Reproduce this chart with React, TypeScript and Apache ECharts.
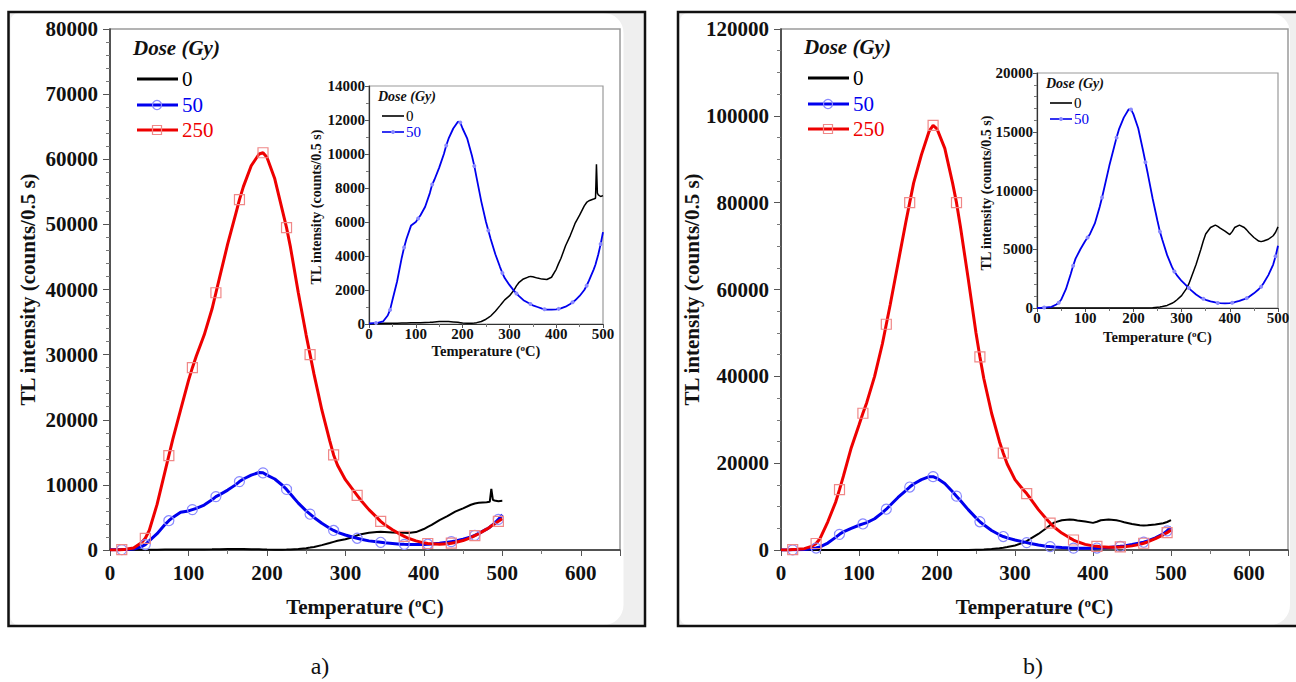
import React, { useEffect, useRef } from "react";
import * as echarts from "echarts";

// ---------- DATA ----------
// Panel a) temperatures (°C)
const TEMPS_A = [0, 10, 15, 20, 30, 40, 45, 50, 60, 70, 75, 80, 90, 100, 105, 110, 120, 130, 135, 140, 150, 160, 165, 170, 180, 190, 195, 200, 210, 220, 225, 230, 240, 250, 255, 260, 270, 280, 285, 290, 300, 310, 315, 320, 330, 340, 345, 350, 360, 370, 375, 380, 390, 400, 405, 410, 420, 430, 435, 440, 450, 460, 465, 470, 480, 484, 486, 488, 490, 495, 500];
const A_DOSE0 = [0, 20, 30, 30, 40, 40, 40, 50, 50, 60, 60, 60, 70, 70, 80, 80, 90, 100, 110, 120, 140, 150, 150, 140, 120, 100, 80, 60, 50, 50, 60, 80, 150, 280, 370, 470, 750, 1080, 1250, 1420, 1650, 2000, 2240, 2430, 2650, 2760, 2800, 2780, 2700, 2640, 2630, 2620, 2750, 3220, 3550, 3850, 4600, 5200, 5550, 5900, 6400, 6950, 7150, 7250, 7350, 7400, 9400, 7700, 7600, 7500, 7550];
const A_DOSE50 = [30, 50, 60, 80, 150, 500, 830, 1400, 2500, 3900, 4500, 5000, 5800, 6000, 6200, 6400, 6900, 7700, 8200, 8500, 9200, 10000, 10500, 10900, 11500, 11900, 11850, 11500, 10900, 9900, 9300, 8600, 7200, 6000, 5500, 5000, 4100, 3350, 3000, 2700, 2300, 1950, 1800, 1650, 1400, 1250, 1180, 1100, 1000, 900, 870, 850, 840, 860, 890, 920, 1020, 1180, 1280, 1380, 1650, 2000, 2250, 2550, 3200, 3500, 3700, 3900, 4100, 4700, 5400];
const A_DOSE250 = [0, 0, 50, 100, 300, 1100, 1800, 3000, 7000, 12000, 14500, 17000, 21500, 26000, 28000, 29800, 33000, 37000, 39500, 42000, 47000, 51500, 53800, 55800, 59000, 60800, 61000, 60300, 57000, 52000, 49500, 46500, 39500, 33000, 30000, 27000, 21500, 16800, 14600, 13000, 10800, 9200, 8400, 7600, 6200, 5000, 4400, 3900, 3100, 2400, 2100, 1800, 1400, 1100, 1000, 950, 900, 950, 1050, 1150, 1450, 1900, 2200, 2500, 3200, 3500, 3700, 3850, 4000, 4400, 4800];

// Panel b) temperatures (°C)
const TEMPS_B = [0, 10, 15, 20, 30, 40, 45, 50, 60, 70, 75, 80, 90, 100, 105, 110, 120, 130, 135, 140, 150, 160, 165, 170, 180, 190, 195, 200, 210, 220, 225, 230, 240, 250, 255, 260, 270, 280, 285, 290, 300, 310, 315, 320, 330, 340, 345, 350, 360, 370, 375, 380, 390, 400, 405, 410, 420, 430, 435, 440, 450, 460, 465, 470, 480, 490, 495, 500];
const B_DOSE0 = [0, 0, 0, 0, 0, 0, 0, 0, 0, 0, 0, 0, 0, 0, 0, 0, 0, 0, 0, 0, 0, 0, 0, 0, 0, 0, 0, 0, 0, 10, 10, 10, 20, 60, 80, 120, 220, 400, 520, 680, 1050, 1650, 2050, 2600, 3700, 5000, 5700, 6300, 6850, 7050, 6950, 6800, 6550, 6250, 6500, 6850, 7050, 6850, 6650, 6400, 6000, 5700, 5650, 5700, 5850, 6150, 6450, 6900];
const B_DOSE50 = [0, 20, 40, 60, 100, 300, 450, 700, 1600, 2900, 3600, 4200, 5000, 5700, 6000, 6300, 7200, 8600, 9400, 10300, 12100, 13700, 14500, 15200, 16200, 16900, 16900, 16500, 15300, 13400, 12400, 11400, 9300, 7400, 6500, 5800, 4500, 3500, 3100, 2800, 2300, 1900, 1700, 1500, 1150, 880, 780, 700, 560, 470, 430, 410, 400, 420, 450, 490, 600, 750, 840, 950, 1250, 1600, 1800, 2100, 2800, 3700, 4400, 5300];
const B_DOSE250 = [0, 0, 100, 150, 300, 900, 1500, 2600, 6500, 11000, 13900, 17000, 23500, 28800, 31500, 34000, 40000, 47500, 52000, 56500, 66000, 75500, 80000, 84500, 91000, 96500, 97800, 97000, 92500, 84500, 80000, 74500, 62500, 50000, 44500, 39500, 31500, 25000, 22300, 19800, 16200, 14000, 13000, 11800, 9300, 7200, 6200, 5300, 3900, 2800, 2300, 1900, 1300, 950, 850, 750, 650, 650, 700, 750, 950, 1300, 1550, 1850, 2600, 3500, 4000, 4600];

// temperatures carrying a data marker
const MARK_TEMPS = [15, 45, 75, 105, 135, 165, 195, 225, 255, 285, 315, 345, 375, 405, 435, 465, 495];

const LEGEND_DOSES = ["0", "50", "250"];
const INSET_DOSES = ["0", "50"];
const LEGEND_TITLE = "Dose (Gy)";
const Y_NAME = "TL intensity (counts/0.5 s)";
const X_NAME = "Temperature ({s|o}C)";

// ---------- STYLE ----------
const FONT = "'Liberation Serif', 'Times New Roman', serif";
const BLACK = "#000000";
const BLUE = "#0000ee";
const RED = "#ee0000";
const BLUE_MK = "#8a8aff";
const RED_MK = "#f08888";

const pairs = (t: number[], v: number[]) => t.map((x, i) => [x, v[i]]);
const markSym = (shape: string) => (val: number[]) =>
  MARK_TEMPS.includes(val[0]) ? shape : "none";
const plain = (v: number) => String(v);

function lineSeries(
  name: string,
  data: number[][],
  axis: number,
  color: string,
  width: number,
  marker?: { shape: string; color: string; size: number; filled?: boolean }
) {
  return {
    type: "line",
    name,
    data,
    xAxisIndex: axis,
    yAxisIndex: axis,
    smooth: false,
    showSymbol: !!marker,
    showAllSymbol: true,
    symbol: marker ? markSym(marker.shape) : "none",
    symbolSize: marker ? marker.size : 0,
    lineStyle: { color, width },
    itemStyle: marker
      ? marker.filled
        ? { color: marker.color, borderColor: marker.color, borderWidth: 0 }
        : { color: "rgba(255,255,255,0)", borderColor: marker.color, borderWidth: 1.2 }
      : { color },
    emphasis: { disabled: true },
    z: 3,
  };
}

function xAxisCfg(grid: number, max: number, inset: boolean, nameGap: number) {
  return {
    type: "value",
    gridIndex: grid,
    min: 0,
    max,
    interval: 100,
    name: X_NAME,
    nameLocation: "middle",
    nameGap,
    nameTextStyle: {
      fontFamily: FONT,
      fontWeight: "bold",
      fontSize: inset ? 14.5 : 21,
      color: "#111",
      rich: {
        s: {
          fontFamily: FONT,
          fontWeight: "bold",
          fontSize: inset ? 9 : 13,
          verticalAlign: "top",
          color: "#111",
        },
      },
    },
    axisLine: { show: true, onZero: false, lineStyle: { color: "#333", width: inset ? 1.2 : 1.5 } },
    axisTick: { show: true, inside: false, length: inset ? 4 : 6, lineStyle: { color: "#555" } },
    minorTick: { show: true, splitNumber: 2, length: inset ? 3 : 4, lineStyle: { color: "#777" } },
    splitLine: { show: false },
    axisLabel: {
      fontFamily: FONT,
      fontWeight: "bold",
      fontSize: inset ? 15 : 21,
      color: "#111",
      margin: inset ? 2 : 12,
      formatter: plain,
      showMaxLabel: inset ? true : false,
    },
  };
}

function yAxisCfg(
  grid: number,
  max: number,
  interval: number,
  minor: number,
  inset: boolean,
  nameGap: number
) {
  return {
    type: "value",
    gridIndex: grid,
    min: 0,
    max,
    interval,
    name: inset ? "" : Y_NAME,
    nameLocation: "middle",
    nameGap,
    nameTextStyle: {
      fontFamily: FONT,
      fontWeight: "bold",
      fontSize: 21,
      color: "#111",
    },
    axisLine: { show: true, onZero: false, lineStyle: { color: "#333", width: inset ? 1.2 : 1.5 } },
    axisTick: { show: true, inside: false, length: inset ? 4 : 7, lineStyle: { color: "#555" } },
    minorTick: { show: true, splitNumber: minor, length: inset ? 3 : 4, lineStyle: { color: "#777" } },
    splitLine: { show: false },
    axisLabel: {
      fontFamily: FONT,
      fontWeight: "bold",
      fontSize: inset ? 15 : 21,
      color: "#111",
      margin: inset ? 4 : 12,
      formatter: plain,
    },
  };
}

// rotated y-axis title of an inset
function insetYName(cx: number, cy: number) {
  return {
    type: "text",
    z: 60,
    x: cx,
    y: cy,
    rotation: Math.PI / 2,
    style: {
      text: Y_NAME,
      fontFamily: FONT,
      fontWeight: "bold",
      fontSize: 14,
      fill: "#111",
      align: "center",
      verticalAlign: "middle",
    },
  };
}

function panelFrame(x: number, w: number, whiteW: number) {
  return [
    { type: "rect", z: -20, shape: { x, y: 12, width: w, height: 614 }, style: { fill: "#efefef" }, silent: true },
    {
      type: "rect",
      z: -19,
      shape: { x: x + 2, y: 13, width: whiteW, height: 612, r: [8, 20, 20, 8] },
      style: { fill: "#ffffff" },
      silent: true,
    },
    {
      type: "rect",
      z: 50,
      shape: { x, y: 12, width: w, height: 614 },
      style: { fill: "none", stroke: "#111", lineWidth: 2.5 },
      silent: true,
    },
  ];
}

function mainLegend(x: number, y: number) {
  const colors = [BLACK, BLUE, RED];
  const els: any[] = [
    {
      type: "text",
      z: 60,
      x,
      y,
      style: {
        text: LEGEND_TITLE,
        fontFamily: FONT,
        fontWeight: "bold",
        fontStyle: "italic",
        fontSize: 21,
        fill: "#111",
        verticalAlign: "middle",
      },
    },
  ];
  const rows = [y + 31, y + 57, y + 82];
  LEGEND_DOSES.forEach((d, i) => {
    const ly = rows[i];
    els.push({
      type: "line",
      z: 60,
      shape: { x1: x + 4, y1: ly, x2: x + 45, y2: ly },
      style: { stroke: colors[i], lineWidth: 3 },
    });
    if (i === 1)
      els.push({
        type: "circle",
        z: 61,
        shape: { cx: x + 24, cy: ly, r: 4.5 },
        style: { fill: "none", stroke: BLUE_MK, lineWidth: 1.2 },
      });
    if (i === 2)
      els.push({
        type: "rect",
        z: 61,
        shape: { x: x + 19.5, y: ly - 4.5, width: 9, height: 9 },
        style: { fill: "none", stroke: RED_MK, lineWidth: 1.2 },
      });
    els.push({
      type: "text",
      z: 60,
      x: x + 49,
      y: ly,
      style: { text: d, fontFamily: FONT, fontSize: 21, fill: colors[i], verticalAlign: "middle" },
    });
  });
  return els;
}

function insetLegend(x: number, y: number) {
  const colors = [BLACK, BLUE];
  const els: any[] = [
    {
      type: "text",
      z: 60,
      x,
      y,
      style: {
        text: LEGEND_TITLE,
        fontFamily: FONT,
        fontWeight: "bold",
        fontStyle: "italic",
        fontSize: 14,
        fill: "#111",
        verticalAlign: "middle",
      },
    },
  ];
  const rows = [y + 20, y + 36];
  INSET_DOSES.forEach((d, i) => {
    const ly = rows[i];
    els.push({
      type: "line",
      z: 60,
      shape: { x1: x + 4, y1: ly, x2: x + 26, y2: ly },
      style: { stroke: colors[i], lineWidth: 1.6 },
    });
    if (i === 1)
      els.push({
        type: "circle",
        z: 61,
        shape: { cx: x + 15, cy: ly, r: 2 },
        style: { fill: BLUE_MK },
      });
    els.push({
      type: "text",
      z: 60,
      x: x + 28,
      y: ly,
      style: { text: d, fontFamily: FONT, fontSize: 15, fill: colors[i], verticalAlign: "middle" },
    });
  });
  return els;
}

export default function App() {
  const ref = useRef<HTMLDivElement>(null);
  useEffect(() => {
    if (!ref.current) return;
    const chart = echarts.init(ref.current, null, { renderer: "svg" });
    const A0 = pairs(TEMPS_A, A_DOSE0);
    const A50 = pairs(TEMPS_A, A_DOSE50);
    const A250 = pairs(TEMPS_A, A_DOSE250);
    const B0 = pairs(TEMPS_B, B_DOSE0);
    const B50 = pairs(TEMPS_B, B_DOSE50);
    const B250 = pairs(TEMPS_B, B_DOSE250);

    const option: any = {
      animation: false,
      backgroundColor: "#ffffff",
      grid: [
        { left: 110, top: 29, width: 510, height: 521, show: true, borderColor: "#9a9a9a", borderWidth: 1.5, backgroundColor: "rgba(0,0,0,0)" },
        { left: 369, top: 86, width: 234, height: 238, show: true, borderColor: "#9a9a9a", borderWidth: 1.2, backgroundColor: "#ffffff" },
        { left: 781, top: 29, width: 507, height: 521, show: true, borderColor: "#9a9a9a", borderWidth: 1.5, backgroundColor: "rgba(0,0,0,0)" },
        { left: 1037, top: 73, width: 241, height: 235, show: true, borderColor: "#9a9a9a", borderWidth: 1.2, backgroundColor: "#ffffff" },
      ],
      xAxis: [
        xAxisCfg(0, 650, false, 46),
        xAxisCfg(1, 500, true, 19),
        xAxisCfg(2, 650, false, 46),
        xAxisCfg(3, 500, true, 21),
      ],
      yAxis: [
        yAxisCfg(0, 80000, 10000, 5, false, 72),
        yAxisCfg(1, 14000, 2000, 2, true, 47),
        yAxisCfg(2, 120000, 20000, 4, false, 72),
        yAxisCfg(3, 20000, 5000, 5, true, 45),
      ],
      series: [
        lineSeries("a0", A0, 0, BLACK, 2),
        lineSeries("a50", A50, 0, BLUE, 3, { shape: "circle", color: BLUE_MK, size: 10 }),
        lineSeries("a250", A250, 0, RED, 3, { shape: "rect", color: RED_MK, size: 10 }),
        lineSeries("ai0", A0, 1, BLACK, 1.5),
        lineSeries("ai50", A50, 1, BLUE, 1.8, { shape: "circle", color: BLUE_MK, size: 4, filled: true }),
        lineSeries("b0", B0, 2, BLACK, 2),
        lineSeries("b50", B50, 2, BLUE, 3, { shape: "circle", color: BLUE_MK, size: 10 }),
        lineSeries("b250", B250, 2, RED, 3, { shape: "rect", color: RED_MK, size: 10 }),
        lineSeries("bi0", B0, 3, BLACK, 1.5),
        lineSeries("bi50", B50, 3, BLUE, 1.8, { shape: "circle", color: BLUE_MK, size: 4, filled: true }),
      ],
      graphic: [
        ...panelFrame(8.5, 636.5, 613),
        ...panelFrame(678, 640, 610),
        ...mainLegend(133, 48),
        ...mainLegend(804, 47),
        ...insetLegend(378, 96),
        ...insetLegend(1046, 83),
        insetYName(316, 207),
        insetYName(986, 193),
        {
          type: "text",
          z: 60,
          x: 320,
          y: 666,
          style: { text: "a)", fontFamily: FONT, fontSize: 24, fill: "#111", align: "center", verticalAlign: "middle" },
        },
        {
          type: "text",
          z: 60,
          x: 1033,
          y: 666,
          style: { text: "b)", fontFamily: FONT, fontSize: 24, fill: "#111", align: "center", verticalAlign: "middle" },
        },
      ],
    };
    chart.setOption(option);
    return () => chart.dispose();
  }, []);
  return (
    <div
      ref={ref}
      style={{ position: "fixed", left: 0, top: 0, width: 1296, height: 682, background: "#fff" }}
    />
  );
}
